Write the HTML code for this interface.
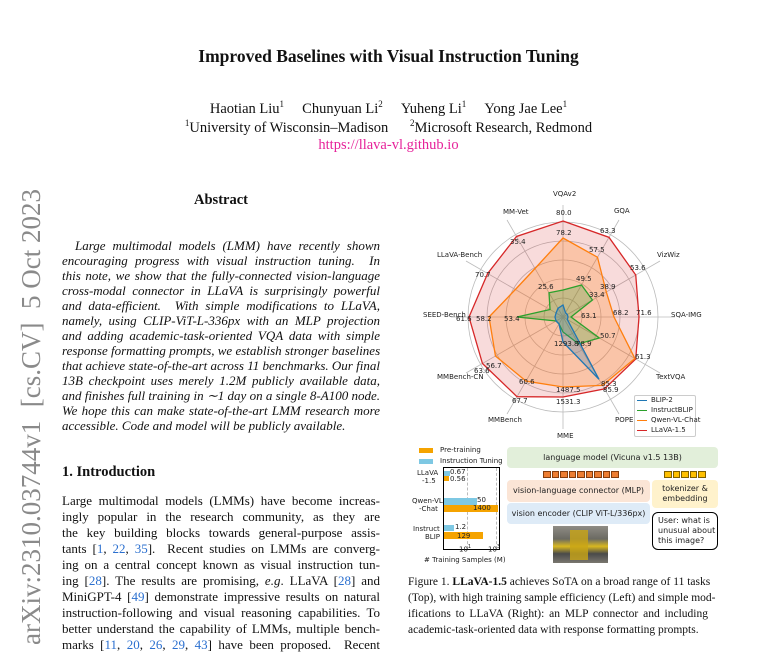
<!DOCTYPE html>
<html><head><meta charset="utf-8">
<style>
*{margin:0;padding:0;box-sizing:border-box}
body{width:777px;height:654px;background:#fff;position:relative;overflow:hidden;font-family:"Liberation Serif",serif;color:#111}
.a{position:absolute;white-space:nowrap}
.j{position:absolute;text-align:justify;text-align-last:justify;white-space:nowrap;font-size:13px;line-height:16px}
.l{text-align-last:left}
.c{color:#2a6fcf}
.it{font-style:italic}
.s{font-family:"DejaVu Sans","Liberation Sans",sans-serif;font-size:7px;color:#222}
</style></head><body>
<div class="a" style="left:0;width:777px;top:46px;text-align:center;font-size:17.5px;font-weight:bold">Improved Baselines with Visual Instruction Tuning</div>
<div class="a" style="left:0;width:777px;top:99px;text-align:center;font-size:14.5px">Haotian Liu<sup style="font-size:9px">1</sup>&nbsp;&nbsp;&nbsp;&nbsp;&nbsp;Chunyuan Li<sup style="font-size:9px">2</sup>&nbsp;&nbsp;&nbsp;&nbsp;&nbsp;Yuheng Li<sup style="font-size:9px">1</sup>&nbsp;&nbsp;&nbsp;&nbsp;&nbsp;Yong Jae Lee<sup style="font-size:9px">1</sup></div>
<div class="a" style="left:0;width:777px;top:118px;text-align:center;font-size:14.5px"><sup style="font-size:9px">1</sup>University of Wisconsin–Madison&nbsp;&nbsp;&nbsp;&nbsp;&nbsp;&nbsp;<sup style="font-size:9px">2</sup>Microsoft Research, Redmond</div>
<div class="a" style="left:0;width:777px;top:137px;text-align:center;font-size:14.5px;color:#e6229a">https://llava-vl.github.io</div>

<div class="a" style="left:16px;top:645px;transform:rotate(-90deg);transform-origin:0 0;font-size:27px;color:#8a8a8a;line-height:30px">arXiv:2310.03744v1&nbsp;&nbsp;[cs.CV]&nbsp;&nbsp;5 Oct 2023</div>

<div class="a" style="left:62px;width:318px;top:192px;text-align:center;font-size:14.5px;font-weight:bold">Abstract</div>
<div class="it">
<div class="j" style="left:75px;width:305px;top:238px">Large multimodal models (LMM) have recently shown</div>
<div class="j" style="left:62px;width:318px;top:253px">encouraging progress with visual instruction tuning.&nbsp; In</div>
<div class="j" style="left:62px;width:318px;top:268px">this note, we show that the fully-connected vision-language</div>
<div class="j" style="left:62px;width:318px;top:283px">cross-modal connector in LLaVA is surprisingly powerful</div>
<div class="j" style="left:62px;width:318px;top:298px">and data-efficient.&nbsp; With simple modifications to LLaVA,</div>
<div class="j" style="left:62px;width:318px;top:313px">namely, using CLIP-ViT-L-336px with an MLP projection</div>
<div class="j" style="left:62px;width:318px;top:328px">and adding academic-task-oriented VQA data with simple</div>
<div class="j" style="left:62px;width:318px;top:343px">response formatting prompts, we establish stronger baselines</div>
<div class="j" style="left:62px;width:318px;top:358px">that achieve state-of-the-art across 11 benchmarks. Our final</div>
<div class="j" style="left:62px;width:318px;top:373px">13B checkpoint uses merely 1.2M publicly available data,</div>
<div class="j" style="left:62px;width:318px;top:388px">and finishes full training in ∼1 day on a single 8-A100 node.</div>
<div class="j" style="left:62px;width:318px;top:403px">We hope this can make state-of-the-art LMM research more</div>
<div class="j l" style="left:62px;width:318px;top:418px">accessible. Code and model will be publicly available.</div>
</div>

<div class="a" style="left:62px;top:464px;font-size:14.5px;font-weight:bold">1. Introduction</div>
<div class="j" style="left:62px;width:318px;top:493px">Large multimodal models (LMMs) have become increas-</div>
<div class="j" style="left:62px;width:318px;top:509px">ingly popular in the research community, as they are</div>
<div class="j" style="left:62px;width:318px;top:525px">the key building blocks towards general-purpose assis-</div>
<div class="j" style="left:62px;width:318px;top:541px">tants [<span class="c">1</span>, <span class="c">22</span>, <span class="c">35</span>].&nbsp; Recent studies on LMMs are converg-</div>
<div class="j" style="left:62px;width:318px;top:557px">ing on a central concept known as visual instruction tun-</div>
<div class="j" style="left:62px;width:318px;top:573px">ing [<span class="c">28</span>]. The results are promising, <i>e.g</i>. LLaVA [<span class="c">28</span>] and</div>
<div class="j" style="left:62px;width:318px;top:589px">MiniGPT-4 [<span class="c">49</span>] demonstrate impressive results on natural</div>
<div class="j" style="left:62px;width:318px;top:605px">instruction-following and visual reasoning capabilities. To</div>
<div class="j" style="left:62px;width:318px;top:621px">better understand the capability of LMMs, multiple bench-</div>
<div class="j" style="left:62px;width:318px;top:637px">marks [<span class="c">11</span>, <span class="c">20</span>, <span class="c">26</span>, <span class="c">29</span>, <span class="c">43</span>] have been proposed.&nbsp; Recent</div>

<svg id="radar" class="a" style="left:0;top:0" width="777" height="654"></svg>

<!-- bottom figure -->
<div class="a" style="left:419px;top:448px;width:14px;height:5px;background:#f5a300"></div>
<div class="a s" style="left:440px;top:446px">Pre-training</div>
<div class="a" style="left:419px;top:459px;width:14px;height:5px;background:#7ec8e3"></div>
<div class="a s" style="left:440px;top:457px">Instruction Tuning</div>
<div class="a" style="left:443px;top:467px;width:57px;height:83px;border:1px solid #000"></div>
<div class="a" style="left:467px;top:468px;width:0;height:81px;border-left:1px dashed #bbb"></div>
<div class="a" style="left:496px;top:468px;width:0;height:81px;border-left:1px dashed #bbb"></div>
<div class="a" style="left:444px;top:471px;width:6px;height:5px;background:#7ec8e3"></div>
<div class="a" style="left:444px;top:476px;width:5px;height:5px;background:#f5a300"></div>
<div class="a" style="left:444px;top:498px;width:33px;height:7px;background:#7ec8e3"></div>
<div class="a" style="left:444px;top:505px;width:54px;height:7px;background:#f5a300"></div>
<div class="a" style="left:444px;top:525px;width:10px;height:6px;background:#7ec8e3"></div>
<div class="a" style="left:444px;top:532px;width:39px;height:7px;background:#f5a300"></div>
<div class="a s" style="left:450px;top:468px">0.67</div>
<div class="a s" style="left:450px;top:475px">0.56</div>
<div class="a s" style="left:477px;top:496px">50</div>
<div class="a s" style="left:473px;top:504px">1400</div>
<div class="a s" style="left:455px;top:523px">1.2</div>
<div class="a s" style="left:457px;top:532px">129</div>
<div class="a s" style="left:417px;top:469px">LLaVA</div>
<div class="a s" style="left:422px;top:477px">-1.5</div>
<div class="a s" style="left:412px;top:497px">Qwen-VL</div>
<div class="a s" style="left:419px;top:505px">-Chat</div>
<div class="a s" style="left:413px;top:525px">Instruct</div>
<div class="a s" style="left:425px;top:533px">BLIP</div>
<div class="a s" style="left:459px;top:544px">10<sup style="font-size:5px">1</sup></div>
<div class="a s" style="left:488px;top:544px">10<sup style="font-size:5px">3</sup></div>
<div class="a s" style="left:424px;top:556px">#&nbsp;Training Samples (M)</div>

<div class="a s" style="left:507px;top:447px;width:211px;height:21px;background:#e2efda;border-radius:4px;line-height:21px;text-align:center;font-size:8px">language model (Vicuna v1.5 13B)</div>
<div class="a" style="left:543px;top:471px;height:7px;display:flex;gap:1px">
<i style="width:7.5px;background:#ed7d31;border:1px solid #843c0c"></i><i style="width:7.5px;background:#ed7d31;border:1px solid #843c0c"></i><i style="width:7.5px;background:#ed7d31;border:1px solid #843c0c"></i><i style="width:7.5px;background:#ed7d31;border:1px solid #843c0c"></i><i style="width:7.5px;background:#ed7d31;border:1px solid #843c0c"></i><i style="width:7.5px;background:#ed7d31;border:1px solid #843c0c"></i><i style="width:7.5px;background:#ed7d31;border:1px solid #843c0c"></i><i style="width:7.5px;background:#ed7d31;border:1px solid #843c0c"></i><i style="width:7.5px;background:#ed7d31;border:1px solid #843c0c"></i></div>
<div class="a" style="left:664px;top:471px;height:7px;display:flex;gap:1px">
<i style="width:7.5px;background:#ffc000;border:1px solid #7f6000"></i><i style="width:7.5px;background:#ffc000;border:1px solid #7f6000"></i><i style="width:7.5px;background:#ffc000;border:1px solid #7f6000"></i><i style="width:7.5px;background:#ffc000;border:1px solid #7f6000"></i><i style="width:7.5px;background:#ffc000;border:1px solid #7f6000"></i></div>
<div class="a s" style="left:507px;top:480px;width:143px;height:22px;background:#fbe5d6;border-radius:4px;line-height:22px;text-align:center;font-size:8px">vision-language connector (MLP)</div>
<div class="a s" style="left:652px;top:480px;width:66px;height:28px;background:#fff2cc;border-radius:4px;line-height:10px;padding-top:4px;text-align:center;font-size:8px">tokenizer &amp;<br>embedding</div>
<div class="a s" style="left:507px;top:503px;width:143px;height:21px;background:#deebf7;border-radius:4px;line-height:21px;text-align:center;font-size:8px">vision encoder (CLIP ViT-L/336px)</div>
<div class="a s" style="left:652px;top:512px;width:66px;height:38px;border:1px solid #000;border-radius:6px;line-height:10px;padding:3px 0 0 5px;font-size:8px">User: what is<br>unusual about<br>this image?</div>
<div class="a" style="left:553px;top:526px;width:55px;height:37px;background:linear-gradient(180deg,#8f8c85 0%,#6b6a62 35%,#d9b820 55%,#4a4a4a 75%,#7a776f 100%)"></div>
<div class="a" style="left:570px;top:530px;width:18px;height:30px;background:#c9a515;opacity:.8"></div>

<div class="j" style="left:408px;width:300px;top:574px;font-size:11.5px"><span>Figure 1. <b>LLaVA-1.5</b> achieves SoTA on a broad range of 11 tasks</span></div>
<div class="j" style="left:408px;width:300px;top:590px;font-size:11.5px">(Top), with high training sample efficiency (Left) and simple mod-</div>
<div class="j" style="left:408px;width:300px;top:606px;font-size:11.5px">ifications to LLaVA (Right): an MLP connector and including</div>
<div class="j l" style="left:408px;width:300px;top:622px;font-size:11.5px">academic-task-oriented data with response formatting prompts.</div>

<script>
(function(){
var cx=563,cy=317,s=document.getElementById('radar'),h='';
function pt(i,r){var t=(90-30*i)*Math.PI/180;return [cx+r*Math.cos(t),cy-r*Math.sin(t)];}
[19,38,57,76,95].forEach(function(r){h+='<circle cx="'+cx+'" cy="'+cy+'" r="'+r+'" fill="none" stroke="#bbb" stroke-width="0.8"/>';});
for(var i=0;i<12;i++){var p=pt(i,112);h+='<line x1="'+cx+'" y1="'+cy+'" x2="'+p[0]+'" y2="'+p[1]+'" stroke="#bbb" stroke-width="0.8"/>';}
function poly(v,c,f,o){var a=v.map(function(r,i){return pt(i,r).join(',');}).join(' ');h+='<polygon points="'+a+'" fill="'+f+'" fill-opacity="'+o+'" stroke="'+c+'" stroke-width="1.3"/>';}
poly([96,92,84,76,84,83,80,92,93,94,87,93],'#d62728','#d62728',0.17);
poly([79,69,50,51,83,79,70,74,78,74,55,56],'#ff7f0e','#ff7f0e',0.25);
poly([27,37,34,8,42,31,15,8,8,46,15,28],'#2ca02c','#2ca02c',0.25);
poly([12,5,5,5,5,72,25,8,8,8,8,10],'#1f77b4','#1f77b4',0.25);
s.innerHTML=h;
})();
</script>
<div class="s">
<div class="a" style="left:553px;top:190px">VQAv2</div>
<div class="a" style="left:503px;top:208px">MM-Vet</div>
<div class="a" style="left:614px;top:207px">GQA</div>
<div class="a" style="left:437px;top:251px">LLaVA-Bench</div>
<div class="a" style="left:657px;top:251px">VizWiz</div>
<div class="a" style="left:423px;top:311px">SEED-Bench</div>
<div class="a" style="left:671px;top:311px">SQA-IMG</div>
<div class="a" style="left:437px;top:373px">MMBench-CN</div>
<div class="a" style="left:656px;top:373px">TextVQA</div>
<div class="a" style="left:488px;top:416px">MMBench</div>
<div class="a" style="left:615px;top:416px">POPE</div>
<div class="a" style="left:557px;top:432px">MME</div>
<div class="a" style="left:556px;top:209px">80.0</div>
<div class="a" style="left:556px;top:229px">78.2</div>
<div class="a" style="left:600px;top:227px">63.3</div>
<div class="a" style="left:589px;top:246px">57.5</div>
<div class="a" style="left:510px;top:238px">35.4</div>
<div class="a" style="left:475px;top:271px">70.7</div>
<div class="a" style="left:630px;top:264px">53.6</div>
<div class="a" style="left:576px;top:275px">49.5</div>
<div class="a" style="left:600px;top:283px">38.9</div>
<div class="a" style="left:538px;top:283px">25.6</div>
<div class="a" style="left:589px;top:291px">33.4</div>
<div class="a" style="left:613px;top:309px">68.2</div>
<div class="a" style="left:636px;top:309px">71.6</div>
<div class="a" style="left:581px;top:312px">63.1</div>
<div class="a" style="left:456px;top:315px">61.6</div>
<div class="a" style="left:476px;top:315px">58.2</div>
<div class="a" style="left:504px;top:315px">53.4</div>
<div class="a" style="left:600px;top:332px">50.7</div>
<div class="a" style="left:554px;top:340px">1293.8</div>
<div class="a" style="left:576px;top:340px">78.9</div>
<div class="a" style="left:635px;top:353px">61.3</div>
<div class="a" style="left:486px;top:362px">56.7</div>
<div class="a" style="left:474px;top:367px">63.6</div>
<div class="a" style="left:519px;top:378px">60.6</div>
<div class="a" style="left:601px;top:380px">85.3</div>
<div class="a" style="left:603px;top:386px">85.9</div>
<div class="a" style="left:556px;top:386px">1487.5</div>
<div class="a" style="left:556px;top:398px">1531.3</div>
<div class="a" style="left:512px;top:397px">67.7</div>
</div>
<div class="a" style="left:634px;top:395px;width:62px;height:42px;border:1px solid #ccc;border-radius:2px;background:#fff"></div>
<div class="s">
<div class="a" style="left:637px;top:400px;width:10px;height:0;border-top:1.5px solid #1f77b4"></div><div class="a" style="left:651px;top:396px">BLIP-2</div>
<div class="a" style="left:637px;top:410px;width:10px;height:0;border-top:1.5px solid #2ca02c"></div><div class="a" style="left:651px;top:406px">InstructBLIP</div>
<div class="a" style="left:637px;top:420px;width:10px;height:0;border-top:1.5px solid #ff7f0e"></div><div class="a" style="left:651px;top:416px">Qwen-VL-Chat</div>
<div class="a" style="left:637px;top:430px;width:10px;height:0;border-top:1.5px solid #d62728"></div><div class="a" style="left:651px;top:426px">LLaVA-1.5</div>
</div>
</body></html>
